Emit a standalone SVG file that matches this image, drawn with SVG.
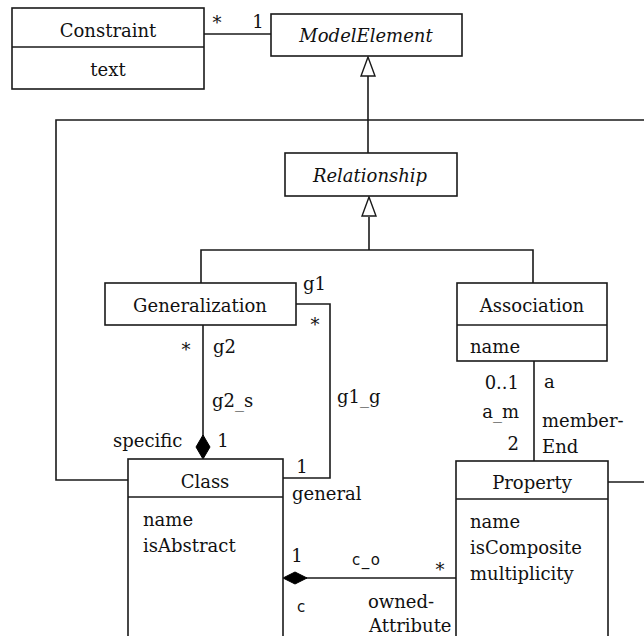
<svg xmlns="http://www.w3.org/2000/svg" width="644" height="636" viewBox="0 0 644 636">
  <style>
    .box { fill: #fff; stroke: #1a1a1a; stroke-width: 1.6; }
    .ln { fill: none; stroke: #1a1a1a; stroke-width: 1.6; }
    .t { font-family: "DejaVu Serif", serif; font-size: 18px; fill: #111; }
    .ti { font-family: "DejaVu Serif", serif; font-size: 18px; font-style: italic; fill: #111; }
    .c { text-anchor: middle; }
    .e { text-anchor: end; }
    .s { font-family: "DejaVu Sans", sans-serif; font-size: 15px; fill: #111; letter-spacing: 1.5px; }
    .tri { fill: #fff; stroke: #1a1a1a; stroke-width: 1.4; }
    .dia { fill: #000; stroke: #000; stroke-width: 1; }
  </style>
  <rect width="644" height="636" fill="#fff"/>

  <!-- connectors -->
  <g id="connectors">
    <!-- Constraint * — 1 ModelElement -->
    <line class="ln" x1="204" y1="34" x2="271" y2="34"/>
    <!-- Relationship generalizes to ModelElement -->
    <line class="ln" x1="368" y1="76" x2="368" y2="153"/>
    <polygon class="tri" points="368,57 361,76 375,76"/>
    <!-- Class generalizes to ModelElement (outer loop) -->
    <polyline class="ln" points="128,480 56,480 56,120 644,120"/>
    <!-- Property generalizes to ModelElement (loop leaves the right edge) -->
    <line class="ln" x1="608" y1="482" x2="644" y2="482"/>
    <!-- Generalization / Association generalize to Relationship -->
    <line class="ln" x1="369" y1="217" x2="369" y2="250"/>
    <polygon class="tri" points="369,197 362,216 376,216"/>
    <polyline class="ln" points="201,283 201,250 533,250 533,283"/>
    <!-- g2 / specific (composition on Class) -->
    <line class="ln" x1="203" y1="325" x2="203" y2="436"/>
    <polygon class="dia" points="203,435 210,447 203,459 196,447"/>
    <!-- g1 / general -->
    <polyline class="ln" points="296,304 330,304 330,478 283,478"/>
    <!-- Association memberEnd Property -->
    <line class="ln" x1="534" y1="361" x2="534" y2="461"/>
    <!-- Class ownedAttribute Property -->
    <line class="ln" x1="306" y1="578" x2="456" y2="578"/>
    <polygon class="dia" points="283,578 295,572 307,578 295,584"/>
  </g>

  <!-- connector labels -->
  <g id="labels">
    <text class="t c" x="217" y="29">*</text>
    <text class="t c" x="258" y="28">1</text>
    <text class="t" x="303" y="290">g1</text>
    <text class="t c" x="315" y="331">*</text>
    <text class="t c" x="186" y="356">*</text>
    <text class="t" x="213" y="353">g2</text>
    <text class="t" x="212" y="407">g2_s</text>
    <text class="t" x="337" y="403">g1_g</text>
    <text class="t" x="113" y="447">specific</text>
    <text class="t c" x="223" y="447">1</text>
    <text class="t c" x="302" y="473">1</text>
    <text class="t" x="292" y="500">general</text>
    <text class="t e" x="519" y="389">0..1</text>
    <text class="t" x="544" y="388">a</text>
    <text class="t e" x="519" y="418">a_m</text>
    <text class="t e" x="519" y="450">2</text>
    <text class="t" x="542" y="427">member-</text>
    <text class="t" x="542" y="453">End</text>
    <text class="t c" x="297" y="562">1</text>
    <text class="s" x="352" y="565">c_o</text>
    <text class="t c" x="440" y="576">*</text>
    <text class="s" x="297" y="612">c</text>
    <text class="t" x="368" y="608">owned-</text>
    <text class="t" x="369" y="632">Attribute</text>
  </g>

  <g id="Constraint">
    <rect class="box" x="12" y="8" width="192" height="81"/>
    <line class="ln" x1="12" y1="47" x2="204" y2="47"/>
    <text class="t c" x="108" y="37">Constraint</text>
    <text class="t c" x="108" y="76">text</text>
  </g>

  <g id="ModelElement">
    <rect class="box" x="271" y="14" width="191" height="42"/>
    <text class="ti c" x="366" y="42">ModelElement</text>
  </g>

  <g id="Relationship">
    <rect class="box" x="285" y="153" width="172" height="43"/>
    <text class="ti c" x="370" y="182">Relationship</text>
  </g>

  <g id="Generalization">
    <rect class="box" x="105" y="283" width="191" height="42"/>
    <text class="t c" x="200" y="312">Generalization</text>
  </g>

  <g id="Association">
    <rect class="box" x="457" y="283" width="150" height="78"/>
    <line class="ln" x1="457" y1="325" x2="607" y2="325"/>
    <text class="t c" x="532" y="312">Association</text>
    <text class="t" x="470" y="353">name</text>
  </g>

  <g id="Class">
    <rect class="box" x="128" y="459" width="155" height="200"/>
    <line class="ln" x1="128" y1="497" x2="283" y2="497"/>
    <text class="t c" x="205" y="488">Class</text>
    <text class="t" x="143" y="526">name</text>
    <text class="t" x="143" y="552">isAbstract</text>
  </g>

  <g id="Property">
    <rect class="box" x="456" y="461" width="152" height="200"/>
    <line class="ln" x1="456" y1="499" x2="608" y2="499"/>
    <text class="t c" x="532" y="489">Property</text>
    <text class="t" x="470" y="528">name</text>
    <text class="t" x="470" y="554">isComposite</text>
    <text class="t" x="470" y="580">multiplicity</text>
  </g>
</svg>
